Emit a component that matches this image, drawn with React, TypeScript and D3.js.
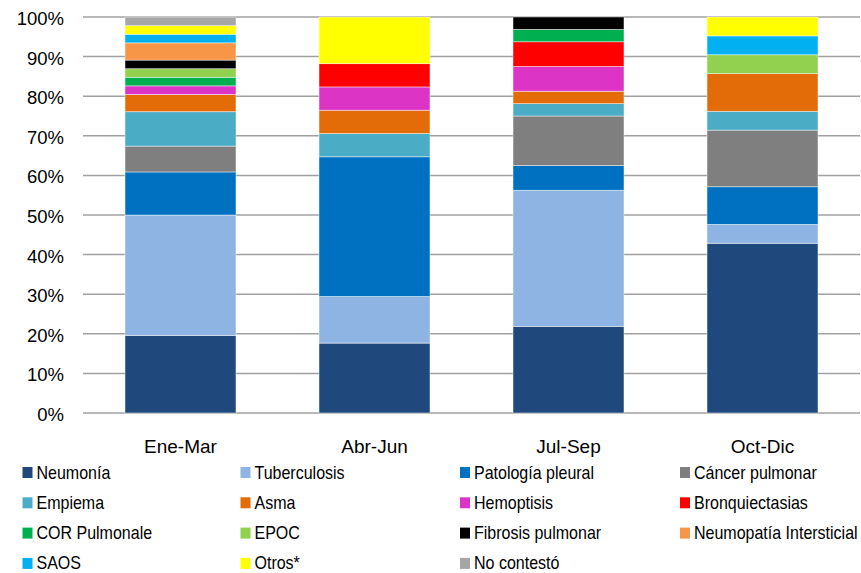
import React from "react";
import * as d3 from "d3";

const categories = ["Ene-Mar", "Abr-Jun", "Jul-Sep", "Oct-Dic"];

const seriesNames = [
  "Neumonía",
  "Tuberculosis",
  "Patología pleural",
  "Cáncer pulmonar",
  "Empiema",
  "Asma",
  "Hemoptisis",
  "Bronquiectasias",
  "COR Pulmonale",
  "EPOC",
  "Fibrosis pulmonar",
  "Neumopatía Intersticial",
  "SAOS",
  "Otros*",
  "No contestó",
];

const seriesColors = [
  "#1F497D",
  "#8EB4E3",
  "#0070C0",
  "#7F7F7F",
  "#4BACC6",
  "#E36C09",
  "#DC35C6",
  "#FF0000",
  "#00B050",
  "#92D050",
  "#000000",
  "#F79646",
  "#00B0F0",
  "#FFFF00",
  "#A6A6A6",
];

// percentage per category, series order as above
const eneMar = [19.57, 30.43, 10.87, 6.52, 8.7, 4.35, 2.17, 0, 2.17, 2.17, 2.17, 4.35, 2.17, 2.17, 2.17];
const abrJun = [17.65, 11.76, 35.29, 0, 5.88, 5.88, 5.88, 5.88, 0, 0, 0, 0, 0, 11.76, 0];
const julSep = [21.875, 34.375, 6.25, 12.5, 3.125, 3.125, 6.25, 6.25, 3.125, 0, 3.125, 0, 0, 0, 0];
const octDic = [42.86, 4.76, 9.52, 14.29, 4.76, 9.52, 0, 0, 0, 4.76, 0, 0, 4.76, 4.76, 0];

const yTicks = [0, 10, 20, 30, 40, 50, 60, 70, 80, 90, 100];

const W = 861;
const H = 573;

export default function App() {
  const rows = [eneMar, abrJun, julSep, octDic];
  const table = categories.map((c, i) => {
    const o: Record<string, any> = { cat: c };
    seriesNames.forEach((s, j) => (o[s] = rows[i][j]));
    return o;
  });
  const stack = d3.stack<any>().keys(seriesNames)(table);

  const x = d3.scaleBand<string>().domain(categories).range([83.5, 859.5]).paddingInner(0.428).paddingOuter(0.214);
  const y = d3.scaleLinear().domain([0, 100]).range([413, 17]);

  const legendCols = [22.5, 240.5, 460, 680];
  const legendRowY = (r: number) => 478.5 + r * 30.3;

  return (
    <svg width={W} height={H} style={{ position: "absolute", left: 0, top: 0, background: "#fff" }} fontFamily="'Liberation Sans', Arial, sans-serif">
      <rect x={0} y={0} width={W} height={H} fill="#fff" />
      {yTicks.map((t) => (
        <g key={t}>
          <line x1={83} x2={860} y1={y(t)} y2={y(t)} stroke="#A0A0A0" strokeWidth={1.5} />
          <text x={64} y={y(t) + 8} textAnchor="end" fontSize={18.5} fill="#000">
            {d3.format(".0%")(t / 100)}
          </text>
        </g>
      ))}
      {stack.map((layer, si) => (
        <g key={layer.key} fill={seriesColors[si]}>
          {layer.map((d, ci) =>
            d[1] - d[0] > 0 ? (
              <rect
                key={ci}
                x={x(categories[ci])!}
                width={x.bandwidth()}
                y={y(d[1])}
                height={y(d[0]) - y(d[1])}
                stroke="#ffffff"
                strokeOpacity={0.55}
                strokeWidth={0.8}
              />
            ) : null
          )}
        </g>
      ))}
      {categories.map((c) => (
        <text key={c} x={x(c)! + x.bandwidth() / 2} y={453} textAnchor="middle" fontSize={19} fill="#000">
          {c}
        </text>
      ))}
      {seriesNames.map((s, i) => {
        const col = i % 4;
        const row = Math.floor(i / 4);
        const bx = legendCols[col];
        const by = legendRowY(row);
        return (
          <g key={s}>
            <rect x={bx} y={by - 11.5} width={10} height={11} fill={seriesColors[i]} />
            <text transform={`translate(${bx + 14},${by}) scale(0.89,1)`} fontSize={18} fill="#000">
              {s}
            </text>
          </g>
        );
      })}
    </svg>
  );
}
